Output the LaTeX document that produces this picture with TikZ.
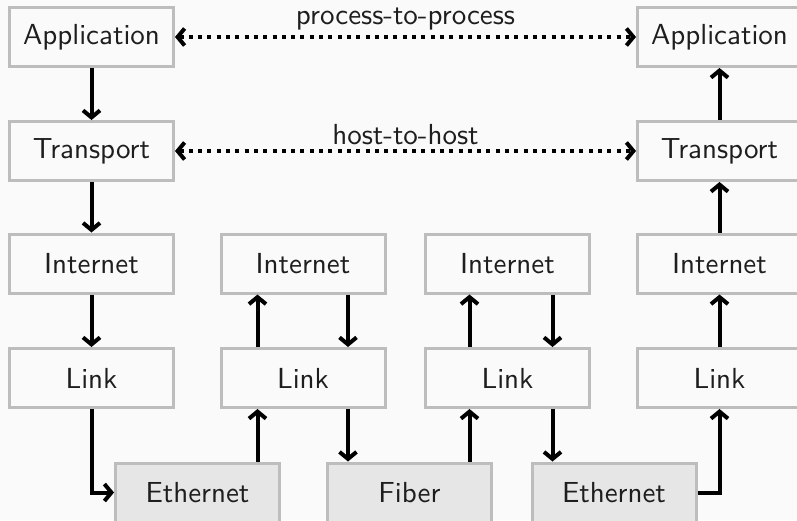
\documentclass[tikz,border=0pt]{standalone}
\usepackage{fontspec}
\setsansfont{lmsans10-regular.otf}
\usetikzlibrary{arrows.meta}

\definecolor{bgcol}{HTML}{FAFAFA}
\definecolor{edgecol}{HTML}{BDBDBD}
\definecolor{mediumfill}{HTML}{E6E6E6}
\definecolor{inkcol}{HTML}{1E1E1E}

\newcommand\labelfont{\sffamily\fontsize{29}{34}\selectfont}

\tikzset{
  layer/.style={draw=edgecol, line width=3pt, fill=bgcol,
    minimum width=164pt, minimum height=59pt, inner sep=0pt,
    text=inkcol, font=\labelfont},
  medium/.style={layer, fill=mediumfill},
  flow/.style={line width=4pt, -{Straight Barb[length=7pt,width=17pt]}},
  peer/.style={line width=4pt, dash pattern=on 4pt off 5.3pt,
    {Straight Barb[length=7pt,width=17pt]}-{Straight Barb[length=7pt,width=17pt]}},
  caption/.style={anchor=south, inner sep=0pt, yshift=4.5pt,
    text=inkcol, font=\labelfont}
}

\begin{document}
\begin{tikzpicture}[x=1pt,y=-1pt]
\useasboundingbox (0,0) rectangle (797,520);
\clip (0,0) rectangle (797,520);
\fill[bgcol] (0,0) rectangle (797,520);

% sending host
\node[layer] (A1) at (91.5,37)    {Application};
\node[layer] (T1) at (91.5,151)   {Transport};
\node[layer] (I1) at (91.5,263.5) {Internet};
\node[layer] (L1) at (91.5,378)   {Link};

% routers
\node[layer] (I2) at (303,263.5)  {Internet};
\node[layer] (L2) at (303,378)    {Link};
\node[layer] (I3) at (507.5,263.5){Internet};
\node[layer] (L3) at (507.5,378)  {Link};

% receiving host
\node[layer] (A4) at (719.5,37)    {Application};
\node[layer] (T4) at (719.5,151)   {Transport};
\node[layer] (I4) at (719.5,263.5) {Internet};
\node[layer] (L4) at (719.5,378)   {Link};

% physical media
\node[medium] (E1) at (197.5,492.5) {Ethernet};
\node[medium] (F)  at (409.5,492.5) {Fiber};
\node[medium] (E2) at (614,492.5)   {Ethernet};

% shaft positions of the router paths
\coordinate (r2up) at (257.5,0);
\coordinate (r2dn) at (348,0);
\coordinate (r3up) at (469.5,0);
\coordinate (r3dn) at (552.5,0);

% down the sending stack
\draw[flow] (A1) -- (T1);
\draw[flow] (T1) -- (I1);
\draw[flow] (I1) -- (L1);
\draw[flow] (L1.south) |- (E1.west);

% first router
\draw[flow] (r2up |- E1.north) -- (r2up |- L2.south);
\draw[flow] (r2up |- L2.north) -- (r2up |- I2.south);
\draw[flow] (r2dn |- I2.south) -- (r2dn |- L2.north);
\draw[flow] (r2dn |- L2.south) -- (r2dn |- F.north);

% second router
\draw[flow] (r3up |- F.north) -- (r3up |- L3.south);
\draw[flow] (r3up |- L3.north) -- (r3up |- I3.south);
\draw[flow] (r3dn |- I3.south) -- (r3dn |- L3.north);
\draw[flow] (r3dn |- L3.south) -- (r3dn |- E2.north);

% up the receiving stack
\draw[flow] (E2.east) -| (L4.south);
\draw[flow] (L4) -- (I4);
\draw[flow] (I4) -- (T4);
\draw[flow] (T4) -- (A4);

% peer relations
\draw[peer] (A1.east) -- (A4.west)
  node[caption, midway] (pp) {process-to-process};
\draw[peer] (T1.east) -- (T4.west)
  node[caption, midway] (hh) {host-to-host};
\end{tikzpicture}
\end{document}
